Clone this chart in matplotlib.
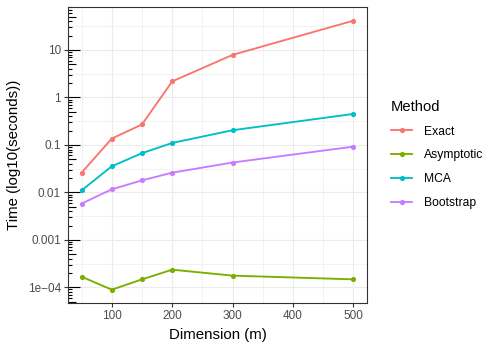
import numpy as np
import matplotlib
matplotlib.use("Agg")
import matplotlib.pyplot as plt
import matplotlib.transforms as mtransforms

plt.rcParams['font.family'] = ['Liberation Sans', 'DejaVu Sans']

dimension = [50, 100, 150, 200, 300, 500]
methods = ["Exact", "Asymptotic", "MCA", "Bootstrap"]
exact = [0.026, 0.136, 0.27, 2.18, 7.9, 41.5]
asymptotic = [1.67e-4, 8.9e-5, 1.47e-4, 2.35e-4, 1.76e-4, 1.47e-4]
mca = [0.011, 0.0355, 0.067, 0.11, 0.204, 0.45]
bootstrap = [0.0058, 0.0116, 0.0179, 0.026, 0.0426, 0.092]
series = [exact, asymptotic, mca, bootstrap]
colors = ["#F8766D", "#7CAE00", "#00BFC4", "#C77CFF"]

x_ticks = [100, 200, 300, 400, 500]
y_ticks = [1e-4, 1e-3, 1e-2, 1e-1, 1, 10]
y_tick_labels = ["1e\u221204", "0.001", "0.01", "0.1", "1", "10"]

DPI = 100
fig = plt.figure(figsize=(4.98, 3.49), dpi=DPI)
W, H = 498, 349
L, R, T, B = 68, 367, 7, 303
ax = fig.add_axes([L / W, 1 - B / H, (R - L) / W, (B - T) / H])

ax.set_yscale('log')
ax.set_xlim(27.5, 522.5)
ax.set_ylim(10 ** -4.331, 10 ** 1.906)

# grid
for xv in np.arange(50, 501, 50):
    major = xv % 100 == 0
    ax.axvline(xv, color='#EBEBEB', lw=0.8 if major else 0.45, zorder=0)
for d in range(-5, 2):
    ax.axhline(10.0 ** d, color='#EBEBEB', lw=0.8, zorder=0)
    ax.axhline(10.0 ** (d + 0.5), color='#EBEBEB', lw=0.45, zorder=0)

for vals, c, m in zip(series, colors, methods):
    ax.plot(dimension, vals, color=c, lw=1.35, marker='o', ms=2.7, label=m, zorder=3)

# log ticks (annotation_logticks style, left side)
trans = mtransforms.blended_transform_factory(ax.transAxes, ax.transData)
axw = R - L
for d in range(-5, 2):
    for k in range(1, 10):
        v = k * 10.0 ** d
        if v < 10 ** -4.331 or v > 10 ** 1.906:
            continue
        if k == 1:
            ln = 12
        elif k == 5:
            ln = 8
        else:
            ln = 4
        ax.plot([0, ln / axw], [v, v], transform=trans, color='black', lw=0.8,
                solid_capstyle='butt', zorder=4, clip_on=False)

ax.set_xticks(x_ticks)
ax.set_xticklabels([str(v) for v in x_ticks])
ax.set_yticks(y_ticks)
ax.set_yticklabels(y_tick_labels)
ax.yaxis.set_minor_locator(matplotlib.ticker.NullLocator())
ax.tick_params(axis='both', which='major', length=3.0, width=0.8, color='#333333',
               labelcolor='#4D4D4D', labelsize=8.5, pad=2.0)
for s in ax.spines.values():
    s.set_color('#333333')
    s.set_linewidth(0.8)
    s.set_zorder(5)

ax.set_xlabel("Dimension (m)", fontsize=10.8, labelpad=4.5)
ax.set_ylabel("Time (log10(seconds))", fontsize=10.8, labelpad=5)

leg = ax.legend(loc='upper left', bbox_to_anchor=(391 / W, 1 - 100 / H),
                bbox_transform=fig.transFigure, frameon=False, title="Method",
                fontsize=8.7, title_fontsize=10.6, handlelength=1.75,
                handletextpad=0.95, labelspacing=0.97, borderaxespad=0,
                borderpad=0)
leg._legend_box.align = "left"

fig.savefig("out.png", dpi=DPI)
